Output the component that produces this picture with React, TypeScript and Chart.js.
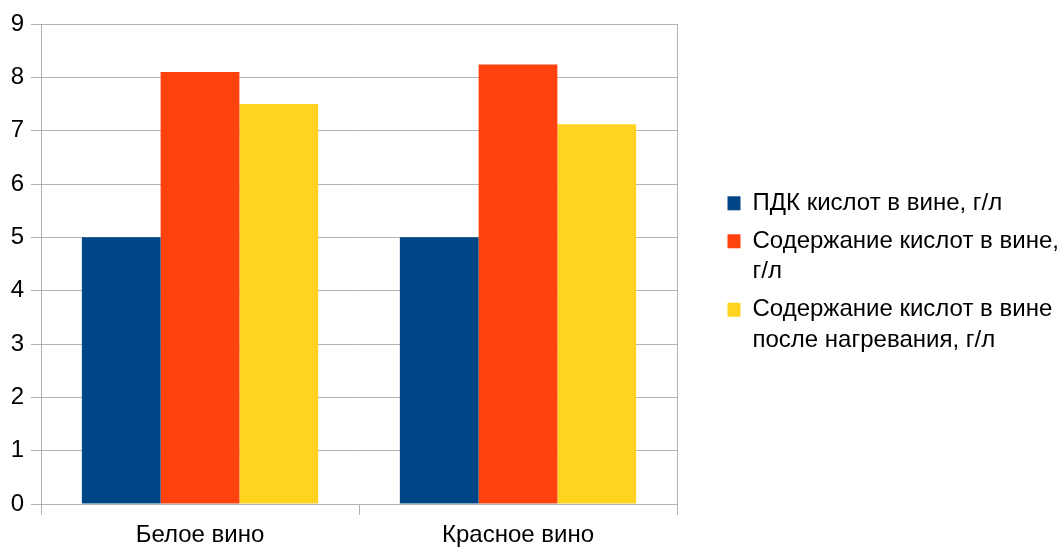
import React, { useEffect, useRef } from "react";
import { Chart, registerables } from "chart.js";

Chart.register(...registerables);

// Wine types on the category axis
const categories: string[] = ["Белое вино", "Красное вино"];

// Acid content per wine type, g/l
const limitValues: number[] = [5, 5];
const contentValues: number[] = [8.1, 8.24];
const heatedValues: number[] = [7.5, 7.12];

// Series names (multi-line where they wrap in the legend)
const limitLabel: string[] = ["ПДК кислот в вине, г/л"];
const contentLabel: string[] = ["Содержание кислот в вине,", "г/л"];
const heatedLabel: string[] = ["Содержание кислот в вине", "после нагревания, г/л"];

const yTicks: number[] = [0, 1, 2, 3, 4, 5, 6, 7, 8, 9];

const FONT = "'Liberation Sans', Arial, sans-serif";
const GRID = "#b3b3b3";
const CANVAS_W = 1057;
const PLOT_RIGHT = 677;
const LEGEND_LEFT = 720;
const LEGEND_FONT_SIZE = 24;
const LEGEND_BOX_W = 13;
const LEGEND_BOX_H = 14;
const LEGEND_PAD = 7.5;

// Width the legend would take on its own, so the plot can end at a fixed x
function legendNaturalWidth(lines: string[]): number {
  const ctx = document.createElement("canvas").getContext("2d");
  if (!ctx) return 0;
  ctx.font = `${LEGEND_FONT_SIZE}px ${FONT}`;
  const longest = lines.reduce((a, b) => (a.length > b.length ? a : b));
  return LEGEND_PAD + LEGEND_BOX_W + LEGEND_FONT_SIZE / 2 + ctx.measureText(longest).width + 10;
}

export default function App() {
  const canvasRef = useRef<HTMLCanvasElement | null>(null);

  useEffect(() => {
    const canvas = canvasRef.current;
    if (!canvas) return;
    const legendMax = CANVAS_W - LEGEND_LEFT;
    const natural = legendNaturalWidth([...limitLabel, ...contentLabel, ...heatedLabel]);
    const padRight = Math.max(0, legendMax - natural);

    const chart = new Chart(canvas, {
      type: "bar",
      data: {
        labels: categories,
        datasets: [
          { label: limitLabel as any, data: limitValues, backgroundColor: "#004586", borderWidth: 0 },
          { label: contentLabel as any, data: contentValues, backgroundColor: "#ff420e", borderWidth: 0 },
          { label: heatedLabel as any, data: heatedValues, backgroundColor: "#ffd320", borderWidth: 0 },
        ],
      },
      options: {
        animation: false,
        responsive: true,
        maintainAspectRatio: false,
        layout: { padding: { top: 24, right: padRight, left: 0, bottom: 0 } },
        datasets: { bar: { categoryPercentage: 0.743, barPercentage: 1 } },
        plugins: {
          tooltip: { enabled: false },
          legend: {
            position: "right",
            align: "center",
            fullSize: false,
            maxWidth: legendMax,
            title: {
              display: true,
              text: "",
              padding: 0,
              font: { family: FONT, size: 22, lineHeight: 1 },
            },
            labels: {
              color: "#000",
              boxWidth: LEGEND_BOX_W,
              boxHeight: LEGEND_BOX_H,
              padding: LEGEND_PAD,
              font: { family: FONT, size: LEGEND_FONT_SIZE, lineHeight: 1.27 },
            },
          },
        },
        scales: {
          x: {
            offset: true,
            grid: {
              offset: true,
              drawOnChartArea: false,
              color: GRID,
              tickLength: 11,
            },
            border: { display: true, color: GRID },
            ticks: { color: "#000", padding: 6, font: { family: FONT, size: 24 } },
            afterFit: (scale: any) => {
              scale.height = 60;
            },
          },
          y: {
            min: 0,
            max: 9,
            afterBuildTicks: (scale: any) => {
              scale.ticks = yTicks.map((v) => ({ value: v }));
            },
            grid: { color: GRID, tickLength: 10 },
            border: { display: true, color: GRID },
            ticks: { color: "#000", padding: 7, font: { family: FONT, size: 24 } },
            afterFit: (scale: any) => {
              scale.width = 41;
            },
          },
          yRight: {
            position: "right",
            min: 0,
            max: 9,
            grid: { display: false },
            border: { display: true, color: GRID },
            ticks: { display: false },
            afterFit: (scale: any) => {
              scale.width = LEGEND_LEFT - PLOT_RIGHT;
            },
          },
        },
      },
    });
    return () => chart.destroy();
  }, []);

  return (
    <div
      style={{
        position: "fixed",
        left: 0,
        top: 0,
        width: CANVAS_W,
        height: 549,
        overflow: "hidden",
        background: "#fff",
      }}
    >
      <div style={{ position: "relative", width: CANVAS_W, height: 564 }}>
        <canvas ref={canvasRef} />
      </div>
    </div>
  );
}
